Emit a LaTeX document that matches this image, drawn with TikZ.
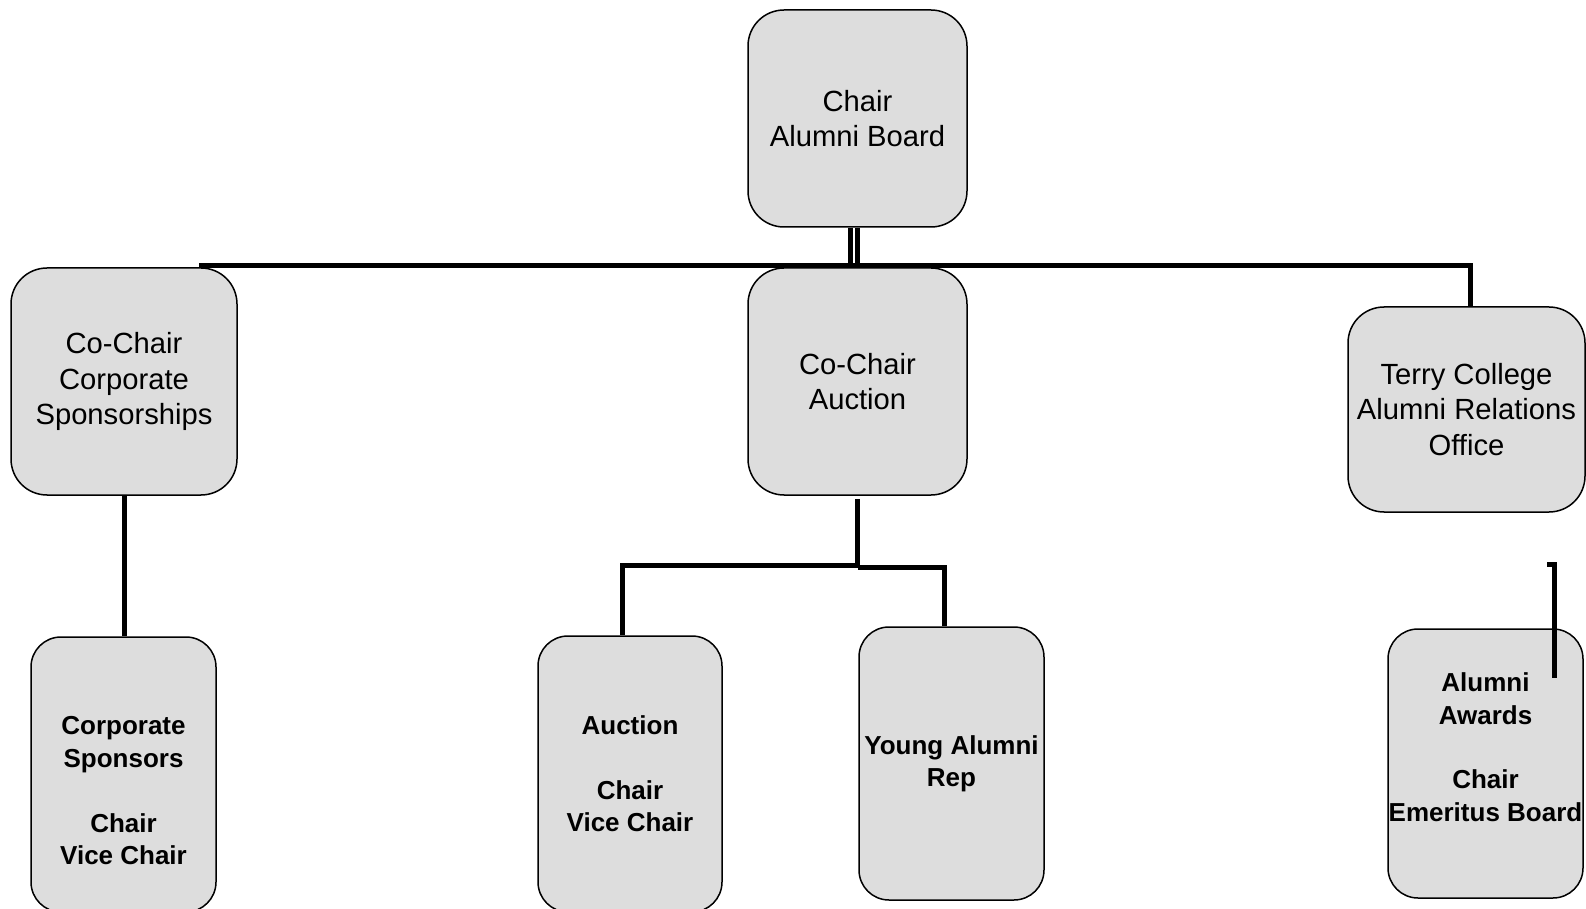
\documentclass[tikz,border=0pt]{standalone}
\usepackage{fontspec}
\setmainfont{Liberation Sans}
\usepackage{xcolor}

\definecolor{boxgray}{RGB}{221,221,221}

\begin{document}
\begin{tikzpicture}[
    x=0.5pt, y=-0.5pt,
    every node/.style={align=center, inner sep=0pt},
    unit/.style={rectangle, draw=black, fill=boxgray, rounded corners=18pt,
                 line width=0.75pt, font=\fontsize{14.6}{17.7}\selectfont},
    team/.style={rectangle, draw=black, fill=boxgray, rounded corners=15pt,
                 line width=0.75pt, font=\bfseries\fontsize{13}{16.2}\selectfont},
    link/.style={line width=2.5pt},
]
\useasboundingbox (0,0) rectangle (1586,909);

\node[unit, minimum width=109.5pt, minimum height=108.5pt] (chair) at (857.5,118.5) {Chair\\Alumni Board};
\node[unit, minimum width=113pt, minimum height=113.5pt] (cocorp) at (124,381.5) {Co-Chair\\Corporate\\Sponsorships};
\node[unit, minimum width=109.5pt, minimum height=113.5pt] (coauct) at (857.5,381.5) {Co-Chair\\Auction};
\node[unit, minimum width=118.5pt, minimum height=102.5pt] (terry) at (1466.5,409.5) {Terry College\\Alumni Relations\\Office};

\node[team, minimum width=92.5pt, minimum height=137.5pt] (sponsors) at (123.5,774.5) {\vphantom{C}\\Corporate\\Sponsors\\[\baselineskip]Chair\\Vice Chair};
\node[team, minimum width=92pt, minimum height=138pt] (auction) at (630,774) {Auction\\[\baselineskip]Chair\\Vice Chair};
\node[team, minimum width=92.5pt, minimum height=136.5pt] (young) at (951.5,763.5) {Young Alumni\\Rep};
\node[team, minimum width=97.5pt, minimum height=134.5pt] (awards) at (1485.5,763.5) {Alumni\\Awards\\[\baselineskip]Chair\\Emeritus Board\\\vphantom{C}};

\coordinate (bus) at (199,266);
\coordinate (split) at (857.5,565);
\coordinate (stray) at (1554.5,564);

\draw[link] (chair.south) -- (chair.south |- bus);
\draw[link] ([xshift=-3.5pt]chair.south) -- ([xshift=-3.5pt]chair.south |- bus);
\draw[link] (bus) -| ([xshift=1.75pt]terry.north);
\draw[link] (cocorp.south) -- (cocorp.south |- sponsors.north);
\draw[link] ([yshift=-1.5pt]coauct.south) -- (split) -| ([xshift=-4pt]auction.north);
\draw[link] ([yshift=-1.25pt]split) -| ([xshift=-3.5pt]young.north);
\draw[link] ([xshift=-3.75pt]stray) -- (stray) -- ++(0,114);

\end{tikzpicture}
\end{document}
